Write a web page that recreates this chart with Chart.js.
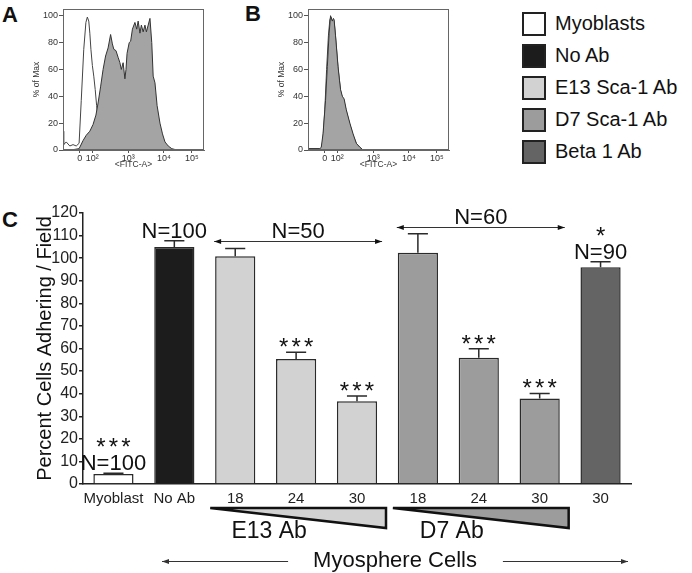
<!DOCTYPE html>
<html>
<head>
<meta charset="utf-8">
<title>Sca-1 adhesion</title>
<script src="https://cdn.jsdelivr.net/npm/chart.js@4.4.1/dist/chart.umd.min.js"></script>
<style>
  html, body { margin: 0; padding: 0; background: #fff; }
  body { width: 692px; height: 573px; position: relative; overflow: hidden; font-family: "Liberation Sans", Arial, sans-serif; color: #111; }
  canvas { position: absolute; }
  #histA { left: 0; top: 0; }
  #histB { left: 245px; top: 0; }
  #bars { left: 0; top: 195px; }
  .panelLetter { position: absolute; font-weight: bold; font-size: 22px; line-height: 1; }
  .legend { position: absolute; left: 522px; top: 12px; }
  .legendRow { position: relative; height: 32px; }
  .legendBox { position: absolute; left: 0; top: 0; width: 20px; height: 20px; border: 2px solid #222; }
  .legendText { position: absolute; left: 33px; top: 1px; font-size: 20px; line-height: 1; white-space: nowrap; }
</style>
</head>
<body>
<div class="panelLetter" style="left:2px; top:4px;">A</div>
<div class="panelLetter" style="left:245px; top:3px;">B</div>
<div class="panelLetter" style="left:2px; top:209px;">C</div>
<canvas id="histA" width="240" height="180"></canvas>
<canvas id="histB" width="240" height="180"></canvas>
<canvas id="bars" width="692" height="378"></canvas>
<div class="legend"></div>
<script>
// ---- histograms (panels A and B), x in display decades ----
const fitcTickPos = [1.65, 2, 3, 4, 4.78];
const fitcTickLabels = ["0", "10²", "10³", "10⁴", "10⁵"];
const maxTicks = [0, 20, 40, 60, 80, 100];

const aCtrlX = [1.18, 1.2, 1.27, 1.37, 1.46, 1.55, 1.63, 1.69, 1.76, 1.82, 1.86, 1.9, 1.93, 1.96, 2.0, 2.04, 2.08, 2.12, 2.16, 2.23, 2.3, 2.37, 2.45, 5.12];
const aCtrlY = [14, 4, 6, 3, 4, 3, 5, 37, 75, 95, 99, 96, 87, 75, 63, 55, 45, 33, 24, 11, 4, 1, 0, 0];
const aStainX = [1.18, 1.4, 1.63, 1.74, 1.83, 1.93, 2.02, 2.10, 2.16, 2.23, 2.30, 2.37, 2.44, 2.51, 2.56, 2.60, 2.66, 2.72, 2.77, 2.81, 2.86, 2.91, 2.94, 2.97, 3.03, 3.07, 3.12, 3.19, 3.24, 3.28, 3.33, 3.37, 3.42, 3.47, 3.51, 3.56, 3.61, 3.66, 3.70, 3.75, 3.81, 3.89, 3.96, 4.03, 4.12, 4.22, 4.36, 5.12];
const aStainY = [0, 0, 1, 7, 11, 14, 19, 26, 35, 47, 60, 70, 76, 86, 79, 75, 74, 69, 65, 60, 65, 53, 60, 72, 80, 81, 90, 95, 90, 96, 87, 93, 88, 93, 88, 93, 98, 80, 55, 50, 33, 20, 12, 6, 3, 1, 0, 0];

const bCtrlX = [1.18, 1.32, 1.5, 1.56, 1.6, 1.65, 1.70, 1.75, 1.79, 1.82, 1.86, 1.89, 1.91, 1.95, 2.02, 2.09, 2.14, 2.19, 2.25, 2.35, 2.44, 2.53, 2.63, 2.72, 5.12];
const bCtrlY = [1, 1, 1, 1, 8, 30, 60, 85, 97, 99, 95, 97, 96, 84, 61, 44, 39, 36, 29, 19, 11, 5, 2, 0, 0];
const bStainX = [1.18, 1.32, 1.51, 1.55, 1.60, 1.67, 1.72, 1.77, 1.81, 1.86, 1.89, 1.91, 1.95, 2.02, 2.06, 2.09, 2.14, 2.19, 2.25, 2.35, 2.44, 2.53, 2.63, 2.72, 5.12];
const bStainY = [1, 1, 1, 2, 12, 37, 62, 87, 100, 96, 98, 97, 85, 62, 52, 45, 40, 38, 30, 20, 12, 5, 2, 0, 0];

// ---- adhesion bar chart (panel C) ----
const categories = ["Myoblast", "No Ab", "18", "24", "30", "18", "24", "30", "30"];
const adhering = [4.4, 105, 100.9, 55.3, 36.6, 102.4, 55.9, 37.9, 96];
const adheringErr = [0.4, 2.7, 3.4, 3.0, 2.4, 8.4, 4.0, 2.2, 2.4];
const significance = ["***", "", "", "***", "***", "", "***", "***", "*"];
const sampleN = ["N=100", "N=100", "", "", "", "", "", "", "N=90"];
const barTreatment = [0, 1, 2, 2, 2, 3, 3, 3, 4];
const groupN = ["N=50", "N=60"];
const groupFirst = [2, 5];
const groupLast = [4, 7];
const doseLabels = ["E13 Ab", "D7 Ab"];
const legendLabels = ["Myoblasts", "No Ab", "E13 Sca-1 Ab", "D7 Sca-1 Ab", "Beta 1 Ab"];

const treatmentColors = ["#ffffff", "#1c1c1c", "#d2d2d2", "#9c9c9c", "#646464"];
const FONT = '"Liberation Sans", Arial, sans-serif';
Chart.defaults.font.family = FONT;

// -----------------------------------------------------------------------

const frame = {
    id: "frame",
    afterDraw(chart) {
        const { ctx, chartArea: a } = chart;
        ctx.save();
        ctx.strokeStyle = "#666";
        ctx.lineWidth = 1;
        ctx.strokeRect(a.left + 0.5, a.top + 0.5, a.right - a.left - 1, a.bottom - a.top - 1);
        ctx.restore();
    }
};

function histChart(id, ctrlX, ctrlY, stainX, stainY) {
    const toPoints = (xs, ys) => xs.map((x, i) => ({ x, y: ys[i] }));
    return new Chart(document.getElementById(id), {
        type: "line",
        data: {
            datasets: [
                { data: toPoints(stainX, stainY), borderColor: "#333", borderWidth: 1, backgroundColor: "#a4a4a4", fill: "origin", pointRadius: 0, tension: 0 },
                { data: toPoints(ctrlX, ctrlY), borderColor: "#444", borderWidth: 1, fill: false, pointRadius: 0, tension: 0 }
            ]
        },
        options: {
            responsive: false,
            animation: false,
            events: [],
            layout: { padding: { top: 9, right: 36, left: 0, bottom: 0 } },
            plugins: { legend: { display: false }, tooltip: { enabled: false } },
            scales: {
                x: {
                    type: "linear", min: 1.18, max: 5.12,
                    afterBuildTicks: s => { s.ticks = fitcTickPos.map(v => ({ value: v })); },
                    ticks: { callback: (v, i) => fitcTickLabels[i], color: "#333", font: { size: 9 }, maxRotation: 0, autoSkip: false, padding: 0 },
                    grid: { drawOnChartArea: false, tickLength: 3, color: "#555" },
                    border: { color: "#666" },
                    title: { display: true, text: "<FITC-A>", color: "#333", font: { size: 8.5 }, padding: { top: 0, bottom: 10 } },
                    afterFit: s => { s.height = 30; }
                },
                y: {
                    min: 0, max: 105,
                    afterBuildTicks: s => { s.ticks = maxTicks.map(v => ({ value: v })); },
                    ticks: { color: "#333", font: { size: 9 }, padding: 1 },
                    grid: { drawOnChartArea: false, tickLength: 4, color: "#555" },
                    border: { color: "#666" },
                    title: { display: true, text: "% of Max", color: "#333", font: { size: 8.5 }, padding: { top: 32 } },
                    afterFit: s => { s.width = 63; }
                }
            }
        },
        plugins: [frame]
    });
}

histChart("histA", aCtrlX, aCtrlY, aStainX, aStainY);
histChart("histB", bCtrlX, bCtrlY, bStainX, bStainY);

// -----------------------------------------------------------------------

const errorBars = {
    id: "errorBars",
    afterDatasetsDraw(chart) {
        const { ctx, scales: { y } } = chart;
        ctx.save();
        ctx.strokeStyle = "#2a2a2a";
        ctx.lineWidth = 1.5;
        chart.getDatasetMeta(0).data.forEach((bar, i) => {
            const top = y.getPixelForValue(adhering[i] + adheringErr[i]);
            const cap = bar.width / 4;
            ctx.beginPath();
            ctx.moveTo(bar.x, bar.y);
            ctx.lineTo(bar.x, top);
            ctx.moveTo(bar.x - cap, top);
            ctx.lineTo(bar.x + cap, top);
            ctx.stroke();
        });
        ctx.restore();
    }
};

function arrow(ctx, x1, x2, y, headLeft, headRight) {
    ctx.beginPath();
    ctx.moveTo(x1, y);
    ctx.lineTo(x2, y);
    ctx.stroke();
    const head = (x, dir) => {
        ctx.beginPath();
        ctx.moveTo(x, y);
        ctx.lineTo(x - dir * 7, y - 2.5);
        ctx.lineTo(x - dir * 7, y + 2.5);
        ctx.closePath();
        ctx.fill();
    };
    if (headLeft) head(x1, -1);
    if (headRight) head(x2, 1);
}

// asterisks drawn one by one, a bit wider apart than the font spaces them
function stars(ctx, marks, x, baseline) {
    const step = 12.5;
    const x0 = x - (marks.length - 1) * step / 2;
    for (let k = 0; k < marks.length; k++) ctx.fillText("*", x0 + k * step, baseline);
}

const annotations = {
    id: "annotations",
    groupLevels: [107.7, 113.8],
    afterDraw(chart) {
        const { ctx, chartArea, scales: { y } } = chart;
        const bars = chart.getDatasetMeta(0).data;
        const axisY = chartArea.bottom;
        ctx.save();
        ctx.fillStyle = "#111";
        ctx.strokeStyle = "#333";
        ctx.lineWidth = 1;
        ctx.textAlign = "center";
        ctx.textBaseline = "alphabetic";

        // sample sizes and significance above bars
        bars.forEach((bar, i) => {
            let floor = y.getPixelForValue(adhering[i] + adheringErr[i]) - 3;
            if (sampleN[i]) {
                ctx.font = `22px ${FONT}`;
                ctx.fillText(sampleN[i], bar.x, floor);
                floor -= 16 + 5;
            }
            if (significance[i]) {
                ctx.font = `24px ${FONT}`;
                stars(ctx, significance[i], bar.x, floor + 6);
            }
        });

        // group arrows with N
        groupN.forEach((label, g) => {
            const b1 = bars[groupFirst[g]], b2 = bars[groupLast[g]];
            const x1 = b1.x - b1.width / 2 - 1;
            const x2 = b2.x + b2.width / 2 + 5;
            const ay = Math.round(y.getPixelForValue(this.groupLevels[g])) + 0.5;
            arrow(ctx, x1, x2, ay, true, true);
            ctx.font = `22px ${FONT}`;
            ctx.fillText(label, (x1 + x2) / 2, ay - 4);
        });

        // dose wedges
        doseLabels.forEach((label, g) => {
            const x1 = bars[groupFirst[g]].x - 25;
            const x2 = bars[groupLast[g]].x + 29;
            ctx.beginPath();
            ctx.moveTo(x1, axisY + 24);
            ctx.lineTo(x2, axisY + 24);
            ctx.lineTo(x2, axisY + 44);
            ctx.closePath();
            ctx.fillStyle = treatmentColors[barTreatment[groupFirst[g]]];
            ctx.fill();
            ctx.lineWidth = 2.5;
            ctx.strokeStyle = "#111";
            ctx.stroke();
            ctx.fillStyle = "#111";
            ctx.font = `23px ${FONT}`;
            ctx.fillText(label, x1 + 0.335 * (x2 - x1), axisY + 54);
        });

        // myosphere span
        const left = chartArea.left + 79, right = chartArea.right - 3;
        const mid = (left + right) / 2;
        ctx.font = `22px ${FONT}`;
        const text = "Myosphere Cells";
        const w = ctx.measureText(text).width;
        ctx.fillText(text, mid, axisY + 83);
        ctx.lineWidth = 1;
        ctx.strokeStyle = "#333";
        ctx.fillStyle = "#333";
        arrow(ctx, left, mid - w / 2 - 25, axisY + 77.5, true, false);
        arrow(ctx, mid + w / 2 + 26, right, axisY + 77.5, false, true);
        ctx.restore();
    }
};

new Chart(document.getElementById("bars"), {
    type: "bar",
    data: {
        labels: categories,
        datasets: [{
            data: adhering,
            backgroundColor: barTreatment.map(t => treatmentColors[t]),
            borderColor: "#2a2a2a",
            borderWidth: 1.5,
            barPercentage: 0.66,
            categoryPercentage: 1
        }]
    },
    options: {
        responsive: false,
        animation: false,
        events: [],
        layout: { padding: { top: 18, right: 61, left: 0, bottom: 0 } },
        plugins: { legend: { display: false }, tooltip: { enabled: false } },
        scales: {
            x: {
                ticks: { color: "#222", font: { size: 15 }, maxRotation: 0, minRotation: 0, autoSkip: false, padding: 2 },
                grid: { drawOnChartArea: false, offset: true, tickLength: 4, color: "rgba(0,0,0,0)" },
                border: { color: "#222", width: 1.5 },
                afterFit: s => { s.height = 89; }
            },
            y: {
                min: 0, max: 120,
                ticks: { stepSize: 10, color: "#222", font: { size: 16 }, padding: 1 },
                grid: { drawOnChartArea: false, tickLength: 4, color: "#222", lineWidth: 1.5 },
                border: { color: "#222", width: 1.5 },
                title: { display: true, text: "Percent Cells Adhering / Field", color: "#111", font: { size: 20 }, padding: { top: 33 } },
                afterFit: s => { s.width = 83; }
            }
        }
    },
    plugins: [errorBars, annotations]
});

// legend
const $legend = document.querySelector(".legend");
legendLabels.forEach((label, i) => {
    const $row = document.createElement("div");
    $row.className = "legendRow";
    $row.innerHTML = `<div class="legendBox" style="background:${treatmentColors[i]}"></div><div class="legendText">${label}</div>`;
    $legend.appendChild($row);
});
</script>
</body>
</html>
